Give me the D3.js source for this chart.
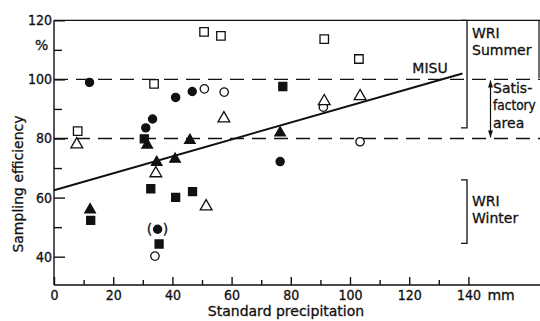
<!DOCTYPE html>
<html>
<head>
<meta charset="utf-8">
<script src="https://cdn.jsdelivr.net/npm/d3@7"></script>
<style>
  body { margin: 0; background: #fff; }
  svg { display: block; }
  text { font-family: "DejaVu Sans", "Liberation Sans", sans-serif; font-size: 14px; fill: #111; stroke: #111; stroke-width: 0.3; }
  .axis path, .axis line { stroke: #111; stroke-width: 1.4; }
  .axis text { font-family: "DejaVu Sans Condensed", "DejaVu Sans", sans-serif; font-size: 14px; }
  .ref { stroke: #111; stroke-width: 1.3; stroke-dasharray: 14 8; }
  .narrow { font-family: "DejaVu Sans Condensed", "DejaVu Sans", sans-serif; font-size: 13.5px; }
</style>
</head>
<body>
<script>
var width = 540,
    height = 321;

// values: [standard precipitation mm, sampling efficiency %]
const filledCircles   = [[12, 99], [31, 83.6], [33.3, 86.6], [41.1, 93.9], [46.7, 95.9], [76.4, 72.2]];
const bracketedPoint  = [[35, 49.3]];
const openCircles     = [[50.8, 96.8], [57.5, 95.7], [91, 90.6], [103.4, 78.9], [34.1, 40.2]];
const openSquares     = [[50.7, 116.1], [56.4, 114.7], [33.8, 98.5], [8, 82.5], [91.3, 113.6], [103, 106.9]];
const filledSquares   = [[30.5, 79.9], [77.3, 97.6], [32.7, 63], [41.1, 60.1], [46.8, 62], [12.4, 52.3], [35.5, 44.3]];
const filledTriangles = [[31.5, 77.8], [45.9, 79.4], [34.7, 71.9], [40.9, 73], [12.2, 55.9], [76.4, 81.9]];
const openTriangles   = [[7.7, 78], [34.4, 68.2], [57.4, 86.8], [91.3, 92.6], [103.4, 94.3], [51.4, 57]];

// MISU regression line end points
const misuLine = [[0, 62.5], [138, 102]];
// satisfactory band limits
const satisfactory = [80, 100];
// WRI ranges
const wriSummer = [83.6, 120];
const wriWinter = [44.5, 66];

const xMajor = [0, 20, 40, 60, 80, 100, 120, 140];
const xMinor = [10, 30, 50, 70, 90, 110, 130];
const yMajor = [40, 60, 80, 100, 120];
const yMinor = [50, 70, 90, 110];

var x = d3.scaleLinear().domain([0, 140]).range([54, 468.4]);
var y = d3.scaleLinear().domain([40, 120]).range([256.7, 20.3]);
var yBottom = y.invert(285);

var svg = d3.select("body").append("svg")
    .attr("width", width)
    .attr("height", height);

// frame: top line and short right edge
svg.append("line").attr("stroke", "#111").attr("stroke-width", 1.3)
    .attr("x1", x(0)).attr("x2", width).attr("y1", y(120)).attr("y2", y(120));
svg.append("line").attr("stroke", "#111").attr("stroke-width", 1.2)
    .attr("x1", 539).attr("x2", 539).attr("y1", y(120)).attr("y2", y(100.5));

// dashed reference lines
svg.selectAll(".refline").data(satisfactory).enter().append("line")
    .attr("class", "ref")
    .attr("x1", x(0)).attr("x2", width)
    .attr("y1", d => y(d)).attr("y2", d => y(d));

// axes
var xAxis = svg.append("g").attr("class", "axis")
    .attr("transform", "translate(0," + y(yBottom) + ")")
    .call(d3.axisBottom(x).tickValues(xMajor).tickSize(-8).tickPadding(5).tickSizeOuter(0));
xAxis.select(".domain").attr("d", "M" + x(0) + ",0H" + width);
svg.append("g").attr("class", "axis")
    .attr("transform", "translate(0," + y(yBottom) + ")")
    .call(d3.axisBottom(x).tickValues(xMinor).tickSize(-5).tickFormat("").tickSizeOuter(0))
    .select(".domain").remove();
svg.append("text").attr("x", x(140) + 19).attr("y", y(yBottom) + 15).text("mm");

var yAxis = svg.append("g").attr("class", "axis")
    .attr("transform", "translate(" + x(0) + ",0)")
    .call(d3.axisLeft(y).tickValues(yMajor).tickSize(-11).tickPadding(2).tickSizeOuter(0));
yAxis.select(".domain").attr("d", "M0," + y(120) + "V" + y(yBottom));
svg.append("g").attr("class", "axis")
    .attr("transform", "translate(" + x(0) + ",0)")
    .call(d3.axisLeft(y).tickValues(yMinor).tickSize(-8).tickFormat("").tickSizeOuter(0))
    .select(".domain").remove();

svg.append("text").attr("x", 35).attr("y", 50).text("%");

// axis titles
svg.append("text")
    .attr("x", 286).attr("y", 316)
    .attr("text-anchor", "middle")
    .text("Standard precipitation");
svg.append("text")
    .attr("transform", "translate(23," + 184 + ") rotate(-90)")
    .attr("text-anchor", "middle")
    .text("Sampling efficiency");

// MISU line
svg.append("path")
    .datum(misuLine)
    .attr("fill", "none").attr("stroke", "#111").attr("stroke-width", 2)
    .attr("d", d3.line().x(d => x(d[0])).y(d => y(d[1])));
svg.append("text").attr("x", x(133)).attr("y", y(102.3))
    .attr("text-anchor", "end").text("MISU");

// markers
function drawSymbols(data, type, size, filled) {
  svg.append("g").selectAll("path").data(data).enter().append("path")
      .attr("transform", d => "translate(" + x(d[0]) + "," + y(d[1]) + ")")
      .attr("d", d3.symbol().type(type).size(size))
      .attr("fill", filled ? "#111" : "#fff")
      .attr("stroke", "#111")
      .attr("stroke-width", 1.3);
}
drawSymbols(openCircles, d3.symbolCircle, 56, false);
drawSymbols(openSquares, d3.symbolSquare, 72, false);
drawSymbols(filledSquares, d3.symbolSquare, 64, true);
drawSymbols(filledTriangles, d3.symbolTriangle, 48, true);
drawSymbols(openTriangles, d3.symbolTriangle, 60, false);
drawSymbols(filledCircles, d3.symbolCircle, 52, true);
drawSymbols(bracketedPoint, d3.symbolCircle, 52, true);

// parentheses round the doubtful point
[["(", -8], [")", 8]].forEach(function (p) {
  svg.selectAll(null).data(bracketedPoint).enter().append("text")
      .attr("x", d => x(d[0]) + p[1]).attr("y", d => y(d[1]) + 5)
      .attr("text-anchor", "middle")
      .text(p[0]);
});

// right-hand annotations
function bracket(range, xPos) {
  var y0 = y(range[1]), y1 = y(range[0]);
  svg.append("path")
      .attr("fill", "none").attr("stroke", "#111").attr("stroke-width", 1.3)
      .attr("d", "M" + (xPos - 6) + "," + y0 + "H" + xPos + "V" + y1 + "H" + (xPos - 6));
}
bracket(wriSummer, 467);
bracket(wriWinter, 467);

svg.append("text").attr("x", 472).attr("y", 38).text("WRI");
svg.append("text").attr("x", 472).attr("y", 55).text("Summer");
svg.append("text").attr("x", 472).attr("y", 206).text("WRI");
svg.append("text").attr("x", 472).attr("y", 223).text("Winter");

// satisfactory double arrow
var ax = 490.5;
svg.append("line").attr("stroke", "#111").attr("stroke-width", 1.2)
    .attr("x1", ax).attr("x2", ax).attr("y1", y(satisfactory[1]) + 1).attr("y2", y(satisfactory[0]) - 1);
svg.append("path").attr("fill", "#111")
    .attr("d", "M" + ax + "," + (y(satisfactory[1]) + 1) + "l-2.5,7h5z");
svg.append("path").attr("fill", "#111")
    .attr("d", "M" + ax + "," + (y(satisfactory[0]) - 1) + "l-2.5,-7h5z");
svg.append("text").attr("x", 493).attr("y", 93).text("Satis-");
svg.append("text").attr("class", "narrow").attr("x", 493).attr("y", 110).text("factory");
svg.append("text").attr("x", 493).attr("y", 128).text("area");
</script>
</body>
</html>
